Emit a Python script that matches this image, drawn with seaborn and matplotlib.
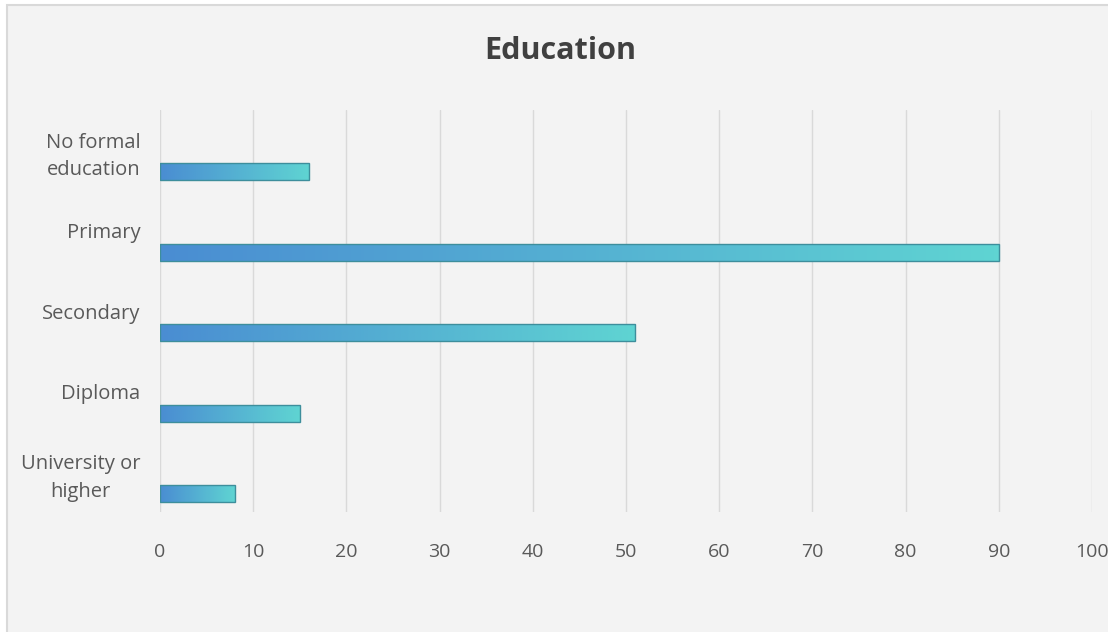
import numpy as np
import pandas as pd
import matplotlib
matplotlib.use("Agg")
import matplotlib.pyplot as plt
from matplotlib.colors import LinearSegmentedColormap
from matplotlib.patches import Rectangle
import seaborn as sns

categories = ["No formal\neducation", "Primary", "Secondary", "Diploma", "University or\nhigher"]
values = [16, 90, 51, 15, 8]
xticks = [0, 10, 20, 30, 40, 50, 60, 70, 80, 90, 100]
title = "Education"

sns.set_theme(style="white")
plt.rcParams['font.family'] = ['Open Sans', 'DejaVu Sans']

bg = "#f3f3f3"
fig = plt.figure(figsize=(11.08, 6.32), dpi=100, facecolor="white")
fig.patches.append(Rectangle((7/1108, -0.05), 1.1, 1.05 - 5/632, transform=fig.transFigure,
                             facecolor=bg, edgecolor="#d9d9d9", linewidth=1.5, zorder=-10))
ax = fig.add_axes([160/1108, 1 - 512/632, (1092 - 160)/1108, (512 - 110)/632])
ax.set_facecolor(bg)

df = pd.DataFrame({"category": categories, "value": values})
# bars drawn slightly below the category centre (Excel-style offset)
sns.barplot(data=df, x="value", y="category", orient="h", width=0.21,
            color="#52b0d2", edgecolor="#3d8e9c", linewidth=1.0, ax=ax, zorder=3)

cmap = LinearSegmentedColormap.from_list("grad", ["#4a8dd2", "#5fd4d2"])
grad = np.linspace(0, 1, 256).reshape(1, -1)
offset = 0.27
for p in ax.patches:
    p.set_y(p.get_y() + offset)
    x0, y0, w, h = p.get_x(), p.get_y(), p.get_width(), p.get_height()
    im = ax.imshow(grad, cmap=cmap, aspect="auto", extent=(x0, x0 + w, y0 + h, y0),
                   zorder=2.5, interpolation="bilinear")
    im.set_clip_path(p)
    p.set_facecolor("none")

ax.set_xlim(0, 100)
ax.set_ylim(len(categories) - 0.5, -0.5)
ax.set_xticks(xticks)
ax.set_xticklabels([str(t) for t in xticks], fontsize=14, color="#595959")
ax.set_yticks(range(len(categories)))
ax.set_yticklabels(categories, fontsize=14.5, color="#595959", multialignment="center",
                   linespacing=1.5)
ax.tick_params(axis="y", length=0, pad=14)
ax.tick_params(axis="x", length=0, pad=22)
ax.xaxis.grid(True, color="#d9d9d9", linewidth=1.0, zorder=0)
ax.yaxis.grid(False)
ax.set_axisbelow(True)
for s in ax.spines.values():
    s.set_visible(False)
ax.set_xlabel("")
ax.set_ylabel("")

fig.text(560/1108, 1 - 51/632, title, ha="center", va="center", fontsize=22,
         fontweight="bold", color="#404040")

fig.savefig("out.png", dpi=100, facecolor=fig.get_facecolor())
